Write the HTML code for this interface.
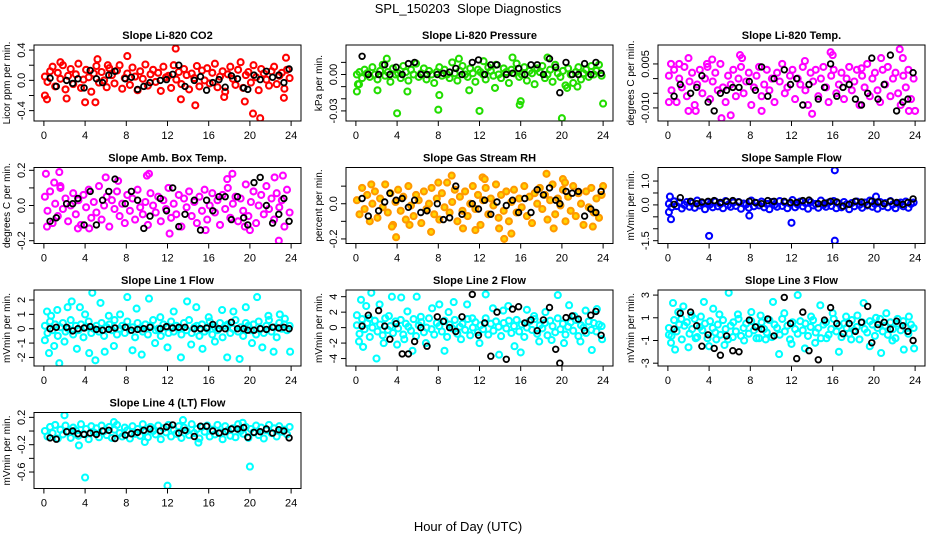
<!DOCTYPE html>
<html><head><meta charset="utf-8"><style>
body{margin:0;background:#fff;}
svg{display:block;font-family:"Liberation Sans",sans-serif;}
</style></head><body>
<svg id="chart" width="936" height="540" viewBox="0 0 936 540" xmlns="http://www.w3.org/2000/svg">
<rect x="0" y="0" width="936" height="540" fill="#fff"/>
<text x="468" y="13" text-anchor="middle" font-size="13">SPL_150203&#160; Slope Diagnostics</text>
<text x="468" y="531" text-anchor="middle" font-size="13">Hour of Day (UTC)</text>
</svg>
<script>
// shared hour categories
const hoursMain=[0.1,0.35,0.6,0.85,1.1,1.35,1.6,1.85,2.1,2.35,2.6,2.85,3.1,3.35,3.6,3.85,4.1,4.35,4.6,4.85,5.1,5.35,5.6,5.85,6.1,6.35,6.6,6.85,7.1,7.35,7.6,7.85,8.1,8.35,8.6,8.85,9.1,9.35,9.6,9.85,10.1,10.35,10.6,10.85,11.1,11.35,11.6,11.85,12.1,12.35,12.6,12.85,13.1,13.35,13.6,13.85,14.1,14.35,14.6,14.85,15.1,15.35,15.6,15.85,16.1,16.35,16.6,16.85,17.1,17.35,17.6,17.85,18.1,18.35,18.6,18.85,19.1,19.35,19.6,19.85,20.1,20.35,20.6,20.85,21.1,21.35,21.6,21.85,22.1,22.35,22.6,22.85,23.1,23.35,23.6,23.85];
const hoursBlack=[0.6,1.2,2.2,2.8,3.3,3.9,4.5,5.1,5.7,6.3,6.9,7.9,8.5,9.1,9.7,10.3,11.3,11.9,12.5,13.1,13.7,14.6,15.2,15.8,16.4,17.0,17.6,18.2,18.8,19.4,19.8,20.4,21.0,21.6,22.2,22.8,23.3,23.8];
const hoursOuter=[0.1,0.3,0.5,0.7,1.0,1.3,1.5,2.0,2.3,2.7,3.2,3.5,4.0,4.4,4.7,5.0,5.5,5.9,6.3,6.8,7.4,8.1,8.6,9.0,9.5,10.2,10.8,11.3,12.0,12.6,13.3,13.9,14.3,14.8,15.4,16.0,16.6,17.3,17.8,18.4,19.0,19.6,20.2,20.7,21.2,21.8,22.3,22.9,23.4,23.9];
const xTicks=[0,4,8,12,16,20,24];

const co2Vals=[0.05,-0.02,0.12,0.18,-0.08,0.1,0.02,0.2,-0.12,0.06,0.15,-0.05,0.08,0.22,-0.1,0.01,0.14,0.04,-0.15,0.09,0.19,-0.03,0.11,0.0,-0.09,0.16,0.07,-0.04,0.13,0.2,-0.11,0.03,0.09,-0.06,0.17,0.05,-0.13,0.12,0.02,0.21,-0.07,0.08,0.14,-0.02,0.1,-0.14,0.18,0.04,0.06,-0.1,0.2,0.01,0.11,-0.05,0.15,0.07,-0.12,0.09,0.03,0.19,-0.08,0.13,0.0,0.16,-0.04,0.1,0.22,-0.09,0.05,0.12,-0.15,0.08,0.18,0.02,-0.06,0.14,0.24,-0.1,0.07,0.11,-0.03,0.2,0.04,-0.13,0.15,0.09,0.01,-0.07,0.12,0.18,-0.05,0.06,0.1,-0.11,0.14,0.03];
const co2OutH=[0.1,0.3,2.2,4,5,13.3,14.7,20.3,21,12.8,8.1,5.2,23.5,19.5,23.3,1.6,6.2,17.5];
const co2OutV=[-0.2,-0.25,-0.24,-0.29,-0.29,-0.25,-0.33,-0.44,-0.5,0.42,0.32,0.28,0.3,-0.28,-0.23,0.24,0.2,-0.22];
const co2Black=[0.03,-0.08,0.0,-0.04,0.02,-0.1,0.13,0.02,-0.03,0.07,0.12,0.02,0.04,-0.12,-0.08,-0.03,0.0,0.01,0.08,0.2,-0.08,0.0,0.05,-0.13,-0.03,0.01,-0.09,0.06,0.02,-0.1,-0.12,0.07,0.01,0.12,0.04,0.07,-0.03,0.15];

const presVals=[0,0.002,-0.003,0.004,0.001,-0.002,0.006,0,-0.004,0.003,0.008,-0.001,0.002,-0.006,0.005,0,0.001,-0.003,0.007,0.002,-0.005,0.004,0,0.009,-0.002,0.001,0.005,-0.004,0.003,0,-0.007,0.002,0.006,-0.001,0.004,0,-0.003,0.01,0.001,-0.005,0.003,0.007,0,-0.002,0.005,0.001,-0.006,0.004,0.002,0,-0.004,0.006,0.003,-0.001,0.008,0,-0.003,0.005,0.002,-0.007,0.004,0.001,0.009,-0.002,0,0.006,-0.005,0.003,0.001,-0.008,0.005,0.002,0.007,-0.003,0,0.004,-0.006,0.008,0.001,-0.002,0.003,-0.009,0.005,0,-0.007,0.002,0.006,-0.004,0.001,0.004,-0.002,0.007,0,0.003,0.008,-0.001];
const presOutH=[0.1,0.2,2.1,4,8,8.1,12,16,15.9,20,24,3,10,15.2,18.6,12.4,0.3,5,11,13.5,20.5,21.5];
const presOutV=[-0.014,-0.008,-0.013,-0.032,-0.029,-0.017,-0.03,-0.022,-0.025,-0.036,-0.024,0.013,0.013,0.014,0.014,0.011,-0.008,-0.014,-0.013,-0.011,-0.011,-0.01];
const presBlack=[0.015,0.0,0.0,0.008,0.0,0.006,0.0,0.009,0.01,0.0,0.0,0.0,0.001,0.002,0.005,0.0,0.01,0.012,0.0,0.008,0.008,0.0,0.001,0.005,0.0,0.008,0.008,0.0,0.013,0.006,-0.015,0.01,0.0,0.0,0.009,0.0,0.01,0.001];

const tempVals=[0.001,-0.004,0.003,-0.008,0.0,-0.003,0.004,-0.006,-0.001,0.002,-0.009,-0.002,0.003,-0.005,0.0,0.004,-0.007,-0.001,0.002,-0.004,0.005,-0.003,-0.008,0.001,-0.002,0.003,-0.006,0.0,0.004,-0.005,-0.001,0.002,-0.009,-0.003,0.001,0.004,-0.006,-0.002,0.003,-0.004,0.0,-0.008,0.002,-0.001,0.005,-0.005,-0.003,0.001,0.003,-0.007,0.0,-0.002,0.004,-0.004,-0.009,0.002,-0.001,0.003,-0.006,0.0,0.004,-0.003,-0.008,0.001,0.003,-0.005,-0.002,0.002,-0.007,0.0,0.004,-0.004,-0.001,0.003,-0.009,0.001,-0.003,0.005,-0.006,0.0,0.002,-0.004,-0.008,0.003,-0.002,0.004,-0.006,0.0,0.002,-0.005,-0.009,0.001,-0.003,0.003,-0.007,0.0];
const tempOutH=[0.1,2,2,2.7,5.2,6.1,7,7.2,9.1,14,16,18.8,20.7,22.5,22.8,23.4,24,0.3,1.1,3.8,4.3,13.3,15.8];
const tempOutV=[-0.008,0.007,-0.011,-0.011,-0.0135,-0.0125,0.008,0.007,-0.011,-0.012,0.008,0.0035,0.007,0.01,0.007,-0.011,-0.011,0.005,0.005,0.005,0.0065,0.006,0.009];
const tempBlack=[-0.006,-0.002,-0.005,-0.003,0.001,-0.008,-0.011,-0.005,-0.004,-0.003,-0.003,-0.001,-0.004,0.004,-0.006,0.0,0.003,-0.002,0.0,-0.009,-0.002,-0.007,-0.003,0.005,-0.006,-0.003,-0.002,-0.007,-0.009,-0.005,0.007,-0.007,-0.002,0.008,-0.011,-0.008,-0.007,0.002];

const ambVals=[0.05,-0.03,0.08,-0.1,0.01,-0.06,0.1,-0.02,0.04,-0.09,0.0,0.07,-0.05,0.03,-0.11,0.06,-0.01,0.09,-0.07,0.02,-0.04,0.11,-0.08,0.0,0.05,-0.12,0.03,-0.02,0.08,-0.06,0.01,-0.1,0.06,-0.03,0.04,-0.08,0.09,-0.01,-0.05,0.02,-0.11,0.07,0.0,-0.04,0.05,-0.09,0.03,-0.02,0.1,-0.07,0.01,-0.05,0.06,-0.12,0.04,-0.01,0.08,-0.06,0.02,-0.1,0.05,-0.03,0.09,-0.08,0.0,0.07,-0.04,0.03,-0.11,0.06,-0.02,0.1,-0.07,0.01,0.05,-0.09,0.04,-0.03,0.12,-0.06,0.02,0.08,-0.1,0.0,0.06,-0.05,0.11,-0.02,0.04,-0.08,0.07,-0.01,0.03,-0.12,0.09,-0.04];
const ambOutH=[0.2,1.5,0.3,1,1.6,4.4,10,10.2,12.2,15.7,17.8,18.3,20,22.4,22.8,23.2,19.5,6,3.3,7.2];
const ambOutV=[0.18,0.19,-0.12,0.13,0.11,-0.13,0.17,0.18,-0.16,-0.14,0.15,0.18,-0.14,0.16,-0.2,0.17,-0.12,0.16,-0.13,0.14];
const ambBlack=[-0.09,-0.07,0.01,0.01,0.04,-0.11,0.08,-0.11,0.03,0.08,0.15,0.01,0.08,0.03,-0.13,-0.06,0.04,-0.03,0.1,-0.12,-0.05,0.03,-0.14,0.03,-0.03,0.05,0.05,-0.08,0.05,-0.07,-0.11,0.13,0.16,0.0,-0.1,-0.05,0.04,-0.09];

const rhVals=[0.02,-0.06,0.09,-0.03,0.05,-0.1,0.0,0.07,-0.08,0.03,-0.02,0.11,-0.05,0.06,-0.12,0.01,0.08,-0.04,0.04,-0.09,0.1,-0.01,-0.07,0.05,0.02,-0.11,0.07,-0.03,0.0,0.09,-0.06,0.03,-0.09,0.06,-0.02,0.12,-0.05,0.01,0.08,-0.1,0.04,-0.04,0.07,-0.07,0.0,0.1,-0.03,0.05,-0.12,0.02,0.09,-0.06,0.03,-0.01,0.11,-0.08,0.05,-0.04,0.07,-0.1,0.01,0.08,-0.05,0.03,-0.02,0.1,-0.07,0.04,-0.11,0.06,0.0,0.09,-0.03,0.05,-0.09,0.02,0.11,-0.06,0.03,-0.01,0.08,-0.1,0.04,-0.04,0.1,-0.07,0.06,0.0,-0.12,0.07,-0.02,0.09,-0.05,0.03,-0.08,0.05];
const rhOutH=[3.9,3.5,7.3,8,9.3,12.3,12.5,11.6,13.9,14.4,15.1,18.5,19.2,20.1,20.3,23,24,5.2,10.4,1.5];
const rhOutV=[-0.19,-0.13,-0.16,0.12,0.16,0.15,0.14,-0.15,-0.14,-0.2,-0.17,0.17,-0.14,0.14,0.12,-0.13,0.1,-0.12,-0.14,0.11];
const rhBlack=[0.03,-0.07,-0.04,0.01,0.06,0.02,0.03,-0.02,0.02,-0.05,-0.04,0.0,-0.09,-0.08,0.1,-0.06,0.0,-0.03,0.02,-0.06,0.01,-0.01,0.02,-0.05,0.03,-0.05,0.08,0.05,0.09,0.02,0.0,0.07,0.06,0.07,-0.07,-0.03,-0.05,0.07];

const sampleVals=[0.05,-0.1,0.15,-0.05,0.1,-0.15,0.0,0.12,-0.08,0.08,-0.12,0.18,-0.02,0.06,-0.18,0.1,0.02,-0.1,0.14,-0.06,0.04,-0.14,0.16,0.0,-0.08,0.1,-0.04,0.12,-0.16,0.06,0.02,-0.12,0.18,-0.06,0.08,-0.02,0.14,-0.1,0.04,-0.18,0.12,0.0,-0.08,0.16,-0.04,0.1,-0.14,0.06,0.2,-0.1,0.02,0.14,-0.06,0.08,-0.16,0.12,-0.02,0.04,-0.12,0.18,0.0,-0.08,0.1,-0.04,0.16,-0.14,0.06,-0.1,0.12,0.02,-0.18,0.08,-0.06,0.14,0.0,-0.12,0.1,-0.02,0.18,-0.08,0.04,-0.16,0.12,-0.04,0.08,-0.1,0.16,0.02,-0.14,0.06,0.1,-0.06,0.14,-0.12,0.04,0.1];
const sampleOutH=[0.1,0.2,0.3,4,7.9,12,16.2,16.2,20.2];
const sampleOutV=[-0.3,0.35,-0.6,-1.3,-0.45,-0.75,1.45,-1.5,0.35];
const sampleBlack=[0.02,0.3,0.15,0.05,0.12,0.15,0.18,0.1,0.15,0.18,0.12,0.15,0.1,0.05,0.18,0.15,0.15,0.1,0.1,0.18,0.2,0.05,0.08,0.15,0.12,-0.05,0.02,0.15,0.12,0.0,0.15,0.12,0.05,0.15,0.1,0.02,0.1,0.25];

const line1Core=[0.2,-0.3,0.5,-0.1,0.3,-0.5,0.1,0.4,-0.2,0.0,0.6,-0.4,0.2,-0.1,0.3,-0.6,0.1,0.5,-0.3,0.0,0.2,-0.2,0.4,-0.5,0.1,0.3,-0.1,0.6,-0.4,0.0,0.2,-0.3,0.5,-0.1,0.1,-0.6,0.4,0.0,-0.2,0.3,-0.4,0.2,0.6,-0.1,0.0,-0.5,0.3,0.1,-0.3,0.5,-0.2,0.2,0.0,-0.4,0.4,-0.1,0.6,-0.3,0.1,0.2,-0.5,0.3,-0.2,0.0,0.5,-0.4,0.1,-0.1,0.4,-0.6,0.2,0.3,-0.3,0.0,0.6,-0.2,0.1,-0.5,0.4,0.2,-0.1,0.3,-0.4,0.5,0.0,-0.3,0.2,0.6,-0.2,0.1,-0.6,0.4,0.0,0.3,-0.1,0.2];
const line1Outer=[-0.8,1.2,-1.7,0.9,-1.2,1.3,-2.4,-0.9,1.5,1.9,-1.4,1.5,1.0,-1.7,2.5,-2.2,1.8,-1.6,0.9,-1.2,1.0,2.2,-1.5,1.4,-1.8,2.1,-1.0,0.8,-1.3,1.2,-2.0,1.9,-1.1,1.5,-1.4,0.8,-0.9,1.3,-2.0,1.2,-2.1,1.5,-1.0,2.2,-1.3,0.9,-1.6,1.0,0.7,-1.6];
const line1Black=[0.0,0.1,0.1,-0.15,0.0,0.05,0.15,-0.05,-0.1,-0.05,0.05,0.1,-0.1,-0.05,0.0,0.1,0.0,0.15,0.05,0.1,0.1,0.0,0.0,0.05,0.3,0.0,0.0,0.45,0.0,0.0,-0.1,-0.1,0.0,-0.05,0.1,0.05,0.1,0.0];

const line2Core=[0.3,-0.8,1.1,-0.2,0.6,-1.2,0.0,0.9,-0.5,0.4,-1.0,1.2,-0.3,0.2,-0.7,0.8,-0.1,1.0,-0.9,0.5,0.1,-0.4,1.1,-1.1,0.3,0.7,-0.6,0.0,1.2,-0.2,-0.9,0.6,0.2,-0.5,0.9,-1.2,0.4,-0.1,1.0,-0.8,0.1,0.5,-0.3,1.1,-1.0,0.0,0.7,-0.6,0.3,-0.2,1.2,-0.9,0.5,-0.4,0.8,0.1,-1.1,0.6,-0.1,0.9,-0.7,0.2,1.0,-0.5,0.4,-1.2,0.0,0.8,-0.3,1.1,-0.8,0.3,-0.1,0.6,-1.0,0.9,0.2,-0.6,1.2,-0.2,0.5,-0.9,0.1,0.7,-0.4,1.0,-1.1,0.3,0.0,-0.7,0.8,-0.3,0.6,-0.5,0.4,0.2];
const line2Outer=[1.6,-1.8,3.6,-2.5,2.8,1.2,4.5,-4.0,3.0,-2.0,1.5,4.0,-2.2,3.9,-1.5,2.1,-3.0,4.0,1.4,-2.0,2.5,3.0,-3.0,2.0,3.3,-1.5,3.0,1.2,-2.0,4.3,2.5,-3.5,2.2,2.8,-2.4,-3.2,2.3,1.5,-1.8,2.0,-1.6,4.2,-2.0,2.9,1.5,-1.8,2.2,-2.9,2.4,-1.5];
const line2Black=[0.2,1.6,2.2,0.2,-1.5,0.5,-3.4,-3.4,-1.8,0.0,-2.4,1.4,0.8,0.0,-0.5,1.4,4.3,-1.0,0.6,-3.7,2.0,-4.1,2.4,2.7,0.6,1.0,-0.4,1.0,2.6,-2.8,-4.6,1.3,1.5,1.1,-0.4,1.6,2.1,-1.0];

const line3Core=[0.1,-0.6,0.8,-0.2,0.4,-0.9,0.3,0.6,-0.4,0.0,0.9,-0.7,0.2,-0.1,0.5,-0.8,0.7,0.1,-0.3,0.4,-0.5,0.8,0.0,-0.9,0.3,0.6,-0.2,0.9,-0.6,0.1,0.5,-0.4,0.7,-0.1,0.2,-0.8,0.6,0.0,-0.3,0.8,-0.7,0.4,0.1,-0.5,0.9,-0.2,0.3,-0.9,0.6,0.0,-0.4,0.7,-0.1,0.5,-0.6,0.2,0.8,-0.3,0.1,-0.8,0.4,0.6,-0.5,0.0,0.9,-0.2,0.3,-0.7,0.5,0.1,-0.4,0.8,-0.1,0.2,-0.9,0.6,0.0,-0.3,0.7,0.4,-0.6,0.1,0.9,-0.2,0.3,-0.5,0.6,0.0,-0.8,0.5,-0.1,0.7,0.2,-0.4,0.4,0.1];
const line3Outer=[-0.5,-1.2,2.3,-1.8,1.5,0.9,2.0,-1.6,1.2,-0.8,1.1,2.4,-1.5,1.8,-0.9,1.3,-1.4,3.2,-0.7,1.3,-1.0,1.5,-0.8,1.2,-0.9,2.4,-2.2,1.4,-1.3,3.0,-1.7,1.1,-1.2,2.1,-0.8,1.4,-2.0,1.1,-0.9,1.2,2.3,-1.5,1.0,-2.1,1.4,-1.0,0.9,-1.8,1.1,-1.7];
const line3Black=[0.0,1.4,1.5,0.3,-1.5,-0.5,-1.7,-2.3,-0.6,-1.9,-2.0,0.8,0.2,0.0,0.9,-0.6,2.8,0.5,-2.6,1.5,-1.9,-2.7,0.8,1.9,0.5,-0.4,0.5,-0.2,0.6,2.0,-1.2,0.4,0.6,0.0,0.7,0.3,-0.2,-1.0];

const line4Core=[0.0,-0.08,0.06,-0.03,0.09,-0.11,0.02,-0.05,0.08,-0.01,-0.1,0.05,0.01,-0.07,0.1,-0.04,0.03,-0.12,0.07,-0.02,0.04,-0.09,0.08,0.0,-0.06,0.06,-0.1,0.02,0.09,-0.03,-0.08,0.05,0.01,-0.11,0.07,-0.04,0.03,-0.07,0.1,-0.01,-0.09,0.06,0.0,-0.05,0.08,-0.12,0.04,-0.02,0.09,-0.08,0.02,-0.04,0.07,-0.1,0.05,0.0,-0.06,0.1,-0.03,0.03,-0.11,0.06,-0.01,0.08,-0.08,0.02,-0.05,0.09,-0.02,-0.12,0.07,0.01,-0.07,0.04,-0.09,0.1,0.0,-0.04,0.06,-0.1,0.03,-0.02,0.08,-0.06,0.05,-0.11,0.01,0.09,-0.03,0.04,-0.08,0.07,-0.01,0.02,-0.05,0.06];
const line4OutH=[2,3.4,4,12,20,13.5,19.3,6.8,15,9.8];
const line4OutV=[0.23,-0.21,-0.68,-0.8,-0.52,0.16,0.12,0.13,-0.17,-0.16];
const line4Black=[-0.1,-0.12,-0.01,0.0,-0.04,-0.05,-0.03,-0.05,0.0,0.01,-0.11,-0.06,-0.04,-0.02,0.01,0.03,0.0,0.06,0.09,-0.03,0.01,-0.08,0.07,0.07,0.0,-0.03,-0.01,0.03,0.03,0.05,-0.09,-0.02,-0.01,0.03,-0.03,0.02,0.0,-0.1];

const NS='http://www.w3.org/2000/svg';
const svg=document.getElementById('chart');
const colLeft=[34,346,658], rowTop=[45,167.5,290,412.5], PW=267, PH=76;
function mk(tag,attrs,parent){const e=document.createElementNS(NS,tag);for(const k in attrs)e.setAttribute(k,attrs[k]);(parent||svg).appendChild(e);return e;}

function drawPanel(p){
  const L=colLeft[p.col], T=rowTop[p.row];
  const g=mk('g',{});
  
  
  const span=p.hi-p.lo, lo=p.lo-0.04*span, hi=p.hi+0.04*span;
  const xs=h=>L+(h+0.96)/25.92*PW;
  const ys=v=>T+PH-(v-lo)/(hi-lo)*PH;
  const clip='clip-'+p.name;
  const cp=mk('clipPath',{id:clip},g); mk('rect',{x:L,y:T,width:PW,height:PH},cp);
  const pts=mk('g',{'clip-path':'url(#'+clip+')'},g);
  function series(H,V,color,nm,fill,r,sw){
    const n=Math.min(H.length,V.length);
    for(let i=0;i<n;i++){
      const c=mk('circle',{cx:xs(H[i]).toFixed(1),cy:ys(V[i]).toFixed(1),r:r,fill:fill||'none',stroke:color,'stroke-width':sw},pts);
      
      
    }
  }
  series(hoursMain,p.main,p.color,p.name,p.fill,3,2.1);
  if(p.outerV) series(hoursOuter,p.outerV,p.color,p.name,p.fill,3,2.1);
  if(p.outH) series(p.outH,p.outV,p.color,p.name,p.fill,3,2.1);
  series(hoursBlack,p.black,'#000',p.name+'-reference',null,2.8,1.8);
  mk('rect',{x:L,y:T,width:PW,height:PH,fill:'none',stroke:'#000','stroke-width':1},g);
  mk('line',{x1:xs(0),x2:xs(24),y1:T+PH,y2:T+PH,stroke:'#000'},g);
  xTicks.forEach(t=>{
    mk('line',{x1:xs(t),x2:xs(t),y1:T+PH,y2:T+PH+5,stroke:'#000'},g);
    const tx=mk('text',{x:xs(t),y:T+PH+18,'text-anchor':'middle','font-size':11},g);
    tx.textContent=t;
    
    
  });
  p.ticks.forEach((t,i)=>{
    const y=ys(t);
    mk('line',{x1:L-5,x2:L,y1:y,y2:y,stroke:'#000'},g);
    if(p.labels[i]){
      const tx=mk('text',{x:L-9,y:y,'text-anchor':'middle','font-size':11,transform:'rotate(-90 '+(L-9)+' '+y+')'},g);
      tx.textContent=p.labels[i];
      
      
    }
  });
  const yl=ys(p.ticks[0]), yh=ys(p.ticks[p.ticks.length-1]);
  mk('line',{x1:L,x2:L,y1:yl,y2:yh,stroke:'#000'},g);
  const yt=mk('text',{x:L-24,y:T+PH/2,'text-anchor':'middle','font-size':10,transform:'rotate(-90 '+(L-24)+' '+(T+PH/2)+')'},g);
  yt.textContent=p.ylab;
  
  
  const tt=mk('text',{x:L+PW/2,y:T-6,'text-anchor':'middle','font-size':11,'font-weight':'bold'},g);
  tt.textContent=p.title;
  
  
}

const panels=[
 {name:'co2',col:0,row:0,title:'Slope Li-820 CO2',ylab:'Licor ppm per min.',lo:-0.5,hi:0.43,ticks:[-0.4,-0.2,0,0.2,0.4],labels:['-0.4','','0.0','','0.4'],color:'#ff0000',main:co2Vals,outH:co2OutH,outV:co2OutV,black:co2Black},
 {name:'pressure',col:1,row:0,title:'Slope Li-820 Pressure',ylab:'kPa per min.',lo:-0.036,hi:0.022,ticks:[-0.03,-0.02,-0.01,0,0.01],labels:['-0.03','','','0.00',''],color:'#22dd00',main:presVals,outH:presOutH,outV:presOutV,black:presBlack},
 {name:'li820-temp',col:2,row:0,title:'Slope Li-820 Temp.',ylab:'degrees C per min.',lo:-0.0135,hi:0.0105,ticks:[-0.01,-0.005,0,0.005],labels:['-0.010','','','0.005'],color:'#ff00ff',main:tempVals,outH:tempOutH,outV:tempOutV,black:tempBlack},
 {name:'amb-box-temp',col:0,row:1,title:'Slope Amb. Box Temp.',ylab:'degrees C per min.',lo:-0.2,hi:0.2,ticks:[-0.2,-0.1,0,0.1,0.2],labels:['-0.2','','0.0','','0.2'],color:'#ff00ff',main:ambVals,outH:ambOutH,outV:ambOutV,black:ambBlack},
 {name:'gas-stream-rh',col:1,row:1,title:'Slope Gas Stream RH',ylab:'percent per min.',lo:-0.21,hi:0.19,ticks:[-0.2,-0.1,0,0.1],labels:['-0.2','','0.0',''],color:'#ff9900',fill:'#ffd400',main:rhVals,outH:rhOutH,outV:rhOutV,black:rhBlack},
 {name:'sample-flow',col:2,row:1,title:'Slope Sample Flow',ylab:'mVmin per min.',lo:-1.5,hi:1.45,ticks:[-1.5,-1,-0.5,0,0.5,1],labels:['-1.5','','','0.0','','1.0'],color:'#0000ff',main:sampleVals,outH:sampleOutH,outV:sampleOutV,black:sampleBlack},
 {name:'line1-flow',col:0,row:2,title:'Slope Line 1 Flow',ylab:'mVmin per min.',lo:-2.4,hi:2.5,ticks:[-2,-1,0,1,2],labels:['-2','-1','0','1','2'],color:'#00ffff',main:line1Core,outerV:line1Outer,black:line1Black},
 {name:'line2-flow',col:1,row:2,title:'Slope Line 2 Flow',ylab:'mVmin per min.',lo:-4.6,hi:4.5,ticks:[-4,-2,0,2,4],labels:['-4','-2','0','2','4'],color:'#00ffff',main:line2Core,outerV:line2Outer,black:line2Black},
 {name:'line3-flow',col:2,row:2,title:'Slope Line 3 Flow',ylab:'mVmin per min.',lo:-3.0,hi:3.2,ticks:[-3,-1,1,3],labels:['-3','-1','1','3'],color:'#00ffff',main:line3Core,outerV:line3Outer,black:line3Black},
 {name:'line4-flow',col:0,row:3,title:'Slope Line 4 (LT) Flow',ylab:'mVmin per min.',lo:-0.8,hi:0.23,ticks:[-0.6,-0.4,-0.2,0,0.2],labels:['-0.6','','-0.2','','0.2'],color:'#00ffff',main:line4Core,outH:line4OutH,outV:line4OutV,black:line4Black}
];
panels.forEach(drawPanel);
</script>
</body></html>
